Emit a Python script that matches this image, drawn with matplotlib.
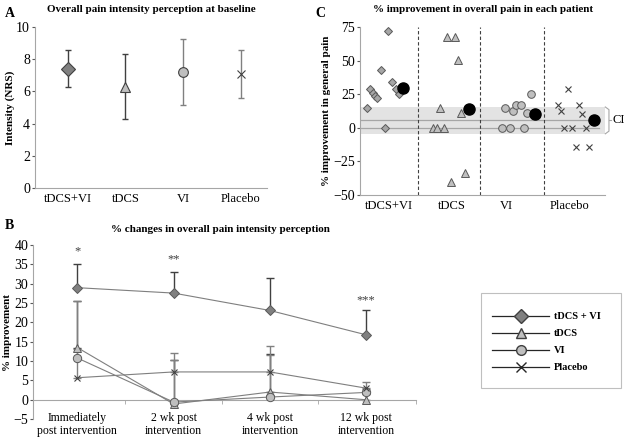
import matplotlib
matplotlib.use("Agg")
import matplotlib.pyplot as plt
from matplotlib.lines import Line2D
from matplotlib.patches import Rectangle

plt.rcParams['font.family'] = ['Liberation Serif', 'DejaVu Serif']

groups = ['tDCS+VI', 'tDCS', 'VI', 'Placebo']
legend_names = ['tDCS + VI', 'tDCS', 'VI', 'Placebo']
markers = ['D', '^', 'o', 'x']
fills = ['#808080', '#BFBFBF', '#BFBFBF', '#404040']
err_colors = ['#404040', '#404040', '#808080', '#808080']

# Panel A: baseline NRS (mean, sd)
base_mean = [7.4, 6.3, 7.2, 7.1]
base_sd = [1.15, 2.0, 2.03, 1.5]

# Panel B: % improvement over time (mean, upper error)
times = ['Immediately\npost intervention', '2 wk post\nintervention',
         '4 wk post\nintervention', '12 wk post\nintervention']
change = {
    'tDCS+VI': [29.0, 27.6, 23.1, 16.8],
    'tDCS': [13.5, -1.1, 2.0, 0.0],
    'VI': [10.8, -0.6, 0.7, 1.9],
    'Placebo': [5.7, 7.2, 7.2, 3.0],
}
change_err = {
    'tDCS+VI': [6.0, 5.4, 8.5, 6.4],
    'tDCS': [12.1, 11.5, 9.8, 1.5],
    'VI': [14.7, 12.8, 13.3, 1.0],
    'Placebo': [7.5, 3.0, 4.5, 1.7],
}
stars = ['*', '**', '', '***']
star_y = [38.3, 36.4, 0, 25.8]

# Panel C: per-patient % improvement (jittered position, value), group mean
pat_x = {
    'tDCS+VI': [0.11, 0.16, 0.21, 0.25, 0.28, 0.34, 0.46, 0.40, 0.52, 0.58, 0.64],
    'tDCS': [1.42, 1.55, 1.60, 1.30, 1.65, 1.19, 1.25, 1.37, 1.49, 1.71],
    'VI': [2.37, 2.50, 2.55, 2.62, 2.73, 2.79, 2.31, 2.44, 2.67],
    'Placebo': [3.39, 3.23, 3.28, 3.57, 3.62, 3.33, 3.45, 3.69, 3.52, 3.74],
}
pat_y = {
    'tDCS+VI': [14.5, 28.8, 25.8, 24.0, 22.4, 43.2, 72.3, 0.0, 34.0, 29.0, 25.3],
    'tDCS': [67.3, 67.3, 50.5, 14.7, 10.9, 0.0, 0.0, 0.0, -40.5, -33.5],
    'VI': [14.7, 12.7, 17.1, 17.1, 10.9, 25.3, 0.0, 0.0, 0.0],
    'Placebo': [29.0, 16.6, 12.7, 16.6, 10.2, 0.0, 0.0, 0.0, -14.4, -14.4],
}
mean_x = [0.70, 1.77, 2.85, 3.82]
mean_y = [29.6, 13.7, 10.4, 5.8]
ci_low, ci_mid, ci_high = -4.5, 5.5, 15.5
sep_x = [0.95, 1.96, 3.0]
label_x = [0.47, 1.49, 2.38, 3.41]

spine_c = '#A6A6A6'

fig = plt.figure(figsize=(6.24, 4.37), dpi=100)


def style_axes(ax):
    for s in ['top', 'right']:
        ax.spines[s].set_visible(False)
    for s in ['left', 'bottom']:
        ax.spines[s].set_color(spine_c)
    ax.tick_params(colors='#595959', labelcolor='black', length=2, width=0.8, pad=1.5)


# ---- Panel A ----
axA = fig.add_axes([0.056, 0.570, 0.372, 0.368])
style_axes(axA)
for i, g in enumerate(groups):
    axA.errorbar(i, base_mean[i], yerr=base_sd[i], fmt='none', ecolor=err_colors[i],
                 elinewidth=1.0, capsize=2.5, capthick=1.0)
    ms = 7 if markers[i] != 'x' else 6
    axA.plot(i, base_mean[i], marker=markers[i], markersize=ms, color=fills[i],
             markeredgecolor='#404040', markeredgewidth=0.8, linestyle='none')
axA.set_xlim(-0.57, 3.46)
axA.set_ylim(0, 10)
axA.set_yticks(range(0, 11, 2))
axA.set_xticks(range(4))
axA.set_xticklabels(groups, fontsize=9)
axA.tick_params(axis='x', length=0, pad=4)
axA.tick_params(axis='y', labelsize=10)
axA.set_ylabel('Intensity (NRS)', fontsize=8, fontweight='bold', labelpad=1)
axA.set_title('Overall pain intensity perception at baseline', fontsize=8,
              fontweight='bold', pad=11)
fig.text(0.008, 0.985, 'A', fontsize=10, fontweight='bold', va='top')

# ---- Panel C ----
axC = fig.add_axes([0.577, 0.554, 0.393, 0.384])
style_axes(axC)
axC.set_xlim(0, 4)
axC.set_ylim(-50, 75)
axC.axhspan(ci_low, ci_high, color='#E3E3E3', zorder=0, lw=0)
axC.axhline(0, xmax=0.975, color='#A6A6A6', lw=0.9, zorder=1)
axC.axhline(ci_mid, xmax=0.975, color='#A6A6A6', lw=0.9, zorder=1)
for sx in sep_x:
    axC.axvline(sx, color='#404040', lw=0.8, linestyle=(0, (3, 2)))
for i, g in enumerate(groups):
    if markers[i] == 'x':
        axC.plot(pat_x[g], pat_y[g], marker='x', markersize=4.5, color='#404040',
                 markeredgewidth=0.8, linestyle='none', zorder=3)
    else:
        ms = 4.5 if markers[i] == 'D' else 5.5
        axC.plot(pat_x[g], pat_y[g], marker=markers[i], markersize=ms,
                 color=fills[i] if i else '#A6A6A6', markeredgecolor='#595959',
                 markeredgewidth=0.7, linestyle='none', zorder=3)
axC.plot(mean_x, mean_y, marker='o', markersize=8, color='black', linestyle='none',
         zorder=4)
# CI bracket
bx0, bx1 = 4.0, 4.06
axC.plot([bx0, bx1, bx1, bx0], [ci_high, ci_high - 2, ci_low + 2, ci_low],
         color='#A6A6A6', lw=0.8, clip_on=False)
axC.plot([bx1, bx1 + 0.03], [ci_mid, ci_mid], color='#A6A6A6', lw=0.8, clip_on=False)
axC.text(4.11, ci_mid, 'CI', fontsize=9, va='center', ha='left')
axC.set_yticks([-50, -25, 0, 25, 50, 75])
axC.set_xticks(label_x)
axC.set_xticklabels(groups, fontsize=9)
axC.tick_params(axis='x', length=0, pad=4)
axC.tick_params(axis='y', labelsize=10)
axC.set_ylabel('% improvement in general pain', fontsize=8, fontweight='bold',
               labelpad=2)
axC.set_title('% improvement in overall pain in each patient', fontsize=8,
              fontweight='bold', pad=11)
fig.text(0.506, 0.985, 'C', fontsize=10, fontweight='bold', va='top')

# ---- Panel B ----
axB = fig.add_axes([0.053, 0.041, 0.614, 0.398])
for s in ['top', 'right']:
    axB.spines[s].set_visible(False)
axB.spines['left'].set_color(spine_c)
axB.spines['bottom'].set_color(spine_c)
axB.spines['bottom'].set_position(('data', 0))
axB.tick_params(colors='#595959', labelcolor='black', length=2, width=0.8, pad=1.5)
xs = range(len(times))
for i, g in enumerate(groups):
    axB.errorbar(xs, change[g], yerr=[[0] * 4, change_err[g]], fmt='none',
                 ecolor=err_colors[i], elinewidth=1.0, capsize=3, capthick=1.0,
                 zorder=2)
    axB.plot(xs, change[g], color='#7F7F7F', lw=0.8, zorder=3)
    if markers[i] == 'x':
        axB.plot(xs, change[g], marker='x', markersize=5, color='#404040',
                 markeredgewidth=0.8, linestyle='none', zorder=4)
    else:
        ms = 5 if markers[i] == 'D' else 6
        axB.plot(xs, change[g], marker=markers[i], markersize=ms, color=fills[i],
                 markeredgecolor='#595959', markeredgewidth=0.7, linestyle='none',
                 zorder=4)
for i, s in enumerate(stars):
    if s:
        axB.text(i, star_y[i], s, ha='center', va='center', fontsize=9,
                 color='#404040')
axB.set_xlim(-0.46, 3.52)
axB.set_ylim(-5, 40)
axB.set_yticks(range(-5, 41, 5))
axB.tick_params(axis='y', labelsize=10)
axB.set_xticks(list(xs))
axB.set_xticklabels(times, fontsize=8.5, linespacing=1.05)
axB.set_xticks([-0.46, 0.5, 1.5, 2.5, 3.52], minor=True)
axB.tick_params(axis='x', which='major', length=0, pad=9)
axB.tick_params(axis='x', which='minor', length=3, color=spine_c)
axB.set_ylabel('% improvement', fontsize=8, fontweight='bold', labelpad=1)
fig.text(0.353, 0.475, '% changes in overall pain intensity perception', fontsize=8,
         fontweight='bold', ha='center', va='center')
fig.text(0.008, 0.485, 'B', fontsize=10, fontweight='bold', va='center')

# ---- Legend ----
fig.patches.append(Rectangle((0.771, 0.112), 0.224, 0.217, transform=fig.transFigure,
                             fill=False, edgecolor='#BFBFBF', linewidth=0.8))
handles = []
for i, name in enumerate(legend_names):
    if markers[i] == 'x':
        h = Line2D([], [], color='#262626', lw=0.9, marker='x', markersize=7,
                   markeredgecolor='#262626')
    else:
        h = Line2D([], [], color='#262626', lw=0.9, marker=markers[i],
                   markersize=7, markerfacecolor=fills[i], markeredgecolor='#404040')
    handles.append(h)
fig.legend(handles, legend_names, loc='center', bbox_to_anchor=(0.876, 0.217),
           handlelength=5.4, prop={'weight': 'bold', 'size': 7.5},
           labelspacing=0.75, frameon=False, handletextpad=0.5)

fig.savefig('out.png', dpi=100)
